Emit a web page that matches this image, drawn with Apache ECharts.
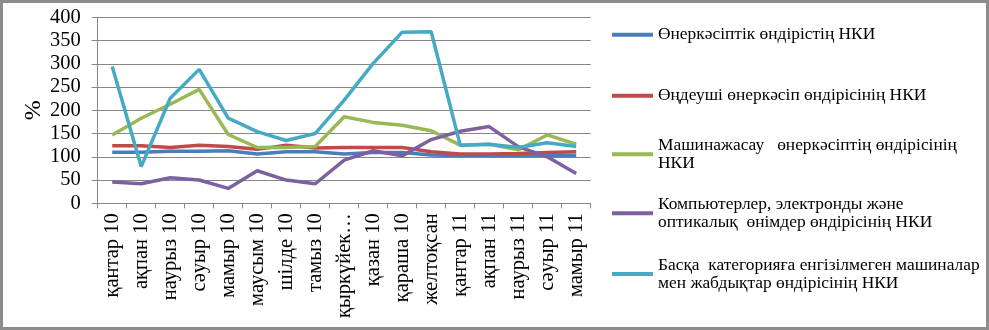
<!DOCTYPE html>
<html>
<head>
<meta charset="utf-8">
<script src="https://cdn.jsdelivr.net/npm/echarts@6/dist/echarts.min.js"></script>
<style>
  html, body { margin: 0; padding: 0; background: #fff; }
  #chart { width: 989px; height: 330px; }
</style>
</head>
<body>
<div id="chart"></div>
<script>
// Monthly production index categories (2010–2011)
const months = ['қантар 10', 'ақпан 10', 'наурыз 10', 'сәуыр 10', 'мамыр 10', 'маусым 10', 'шілде 10', 'тамыз 10',
  'қыркүйек…', 'қазан 10', 'қараша 10', 'желтоқсан', 'қантар 11', 'ақпан 11', 'наурыз 11', 'сәуыр 11', 'мамыр 11'];

const yTicks = [0, 50, 100, 150, 200, 250, 300, 350, 400];

const seriesNames = [
  'Өнеркәсіптік өндірістің НКИ',
  'Өңдеуші өнеркәсіп өндірісінің НКИ',
  'Машинажасау   өнеркәсіптің өндірісінің НКИ',
  'Компьютерлер, электронды және оптикалық  өнімдер өндірісінің НКИ',
  'Басқа  категорияға енгізілмеген машиналар мен жабдықтар өндірісінің НКИ'
];

const legendLines = [
  ['Өнеркәсіптік өндірістің НКИ'],
  ['Өңдеуші өнеркәсіп өндірісінің НКИ'],
  ['Машинажасау   өнеркәсіптің өндірісінің', 'НКИ'],
  ['Компьютерлер, электронды және', 'оптикалық  өнімдер өндірісінің НКИ'],
  ['Басқа  категорияға енгізілмеген машиналар', 'мен жабдықтар өндірісінің НКИ']
];

const industryIdx = [110, 110, 112, 112, 113, 106, 111, 111, 106, 109, 109, 104, 103, 103, 103, 103, 103];
const manufacturingIdx = [124, 124, 120, 125, 122, 116, 125, 119, 120, 120, 120, 111, 106, 106, 107, 109, 111];
const machineryIdx = [147, 183, 213, 245, 148, 120, 120, 122, 186, 174, 168, 156, 125, 127, 115, 147, 127];
const electronicsIdx = [46, 42, 55, 50, 32, 70, 50, 42, 93, 113, 102, 137, 155, 165, 122, 100, 64];
const otherMachineryIdx = [294, 79, 226, 288, 183, 154, 135, 150, 222, 301, 368, 369, 125, 127, 120, 130, 122];

const seriesData = [industryIdx, manufacturingIdx, machineryIdx, electronicsIdx, otherMachineryIdx];
const colors = ['#4A7EBB', '#BE4B48', '#98B954', '#7D60A0', '#46AAC5'];

// marker line centre heights for each legend row
const legendRowY = [34.7, 95.7, 154.3, 213.3, 274];

const LINE_H = 18;
const legends = seriesNames.map((name, i) => {
  const nLines = legendLines[i].length;
  const padTop = nLines === 1 ? 7 : 25;
  const boxH = nLines * LINE_H + padTop;
  return {
    data: [name],
    orient: 'vertical',
    left: 612,
    top: legendRowY[i] - boxH / 2,
    padding: 0,
    icon: 'rect',
    itemWidth: 41,
    itemHeight: 4,
    itemGap: 4,
    selectedMode: false,
    formatter: () => legendLines[i].join('\n'),
    textStyle: {
      fontFamily: 'Liberation Serif',
      fontSize: 17.4,
      lineHeight: LINE_H,
      color: '#000',
      padding: [padTop, 0, 0, 0]
    }
  };
});

const chart = echarts.init(document.getElementById('chart'), null, { renderer: 'canvas' });

chart.setOption({
  animation: false,
  backgroundColor: '#fff',
  color: colors,
  graphic: [{
    type: 'rect',
    shape: { x: 1.5, y: 1.5, width: 986, height: 327 },
    style: { fill: 'none', stroke: '#8c8c8c', lineWidth: 3 },
    silent: true
  }],
  legend: legends,
  grid: { left: 97.7, right: 398.3, top: 17.3, bottom: 126.7, containLabel: false },
  xAxis: {
    type: 'category',
    data: months,
    boundaryGap: true,
    axisLine: { lineStyle: { color: '#868686', width: 1 } },
    axisTick: { show: true, alignWithLabel: false, length: 5, lineStyle: { color: '#868686' } },
    axisLabel: {
      rotate: 90,
      interval: 0,
      margin: 10,
      fontFamily: 'Liberation Serif',
      fontSize: 20.5,
      color: '#000'
    },
    splitLine: { show: false }
  },
  yAxis: {
    type: 'value',
    min: yTicks[0],
    max: yTicks[yTicks.length - 1],
    interval: 50,
    name: '%',
    nameLocation: 'middle',
    nameRotate: 90,
    nameGap: 52,
    nameTextStyle: { fontFamily: 'Liberation Serif', fontSize: 24, color: '#000' },
    axisLine: { show: true, lineStyle: { color: '#868686', width: 1 } },
    axisTick: { show: true, length: 6, lineStyle: { color: '#868686' } },
    axisLabel: {
      margin: 17,
      fontFamily: 'Liberation Serif',
      fontSize: 20.5,
      color: '#000'
    },
    splitLine: { show: true, lineStyle: { color: '#868686', width: 1 } }
  },
  series: seriesNames.map((name, i) => ({
    name: name,
    type: 'line',
    data: seriesData[i],
    symbol: 'none',
    showSymbol: false,
    smooth: false,
    lineStyle: { width: 3.5, color: colors[i] },
    itemStyle: { color: colors[i] },
    z: 2 + i
  }))
});
</script>
</body>
</html>
